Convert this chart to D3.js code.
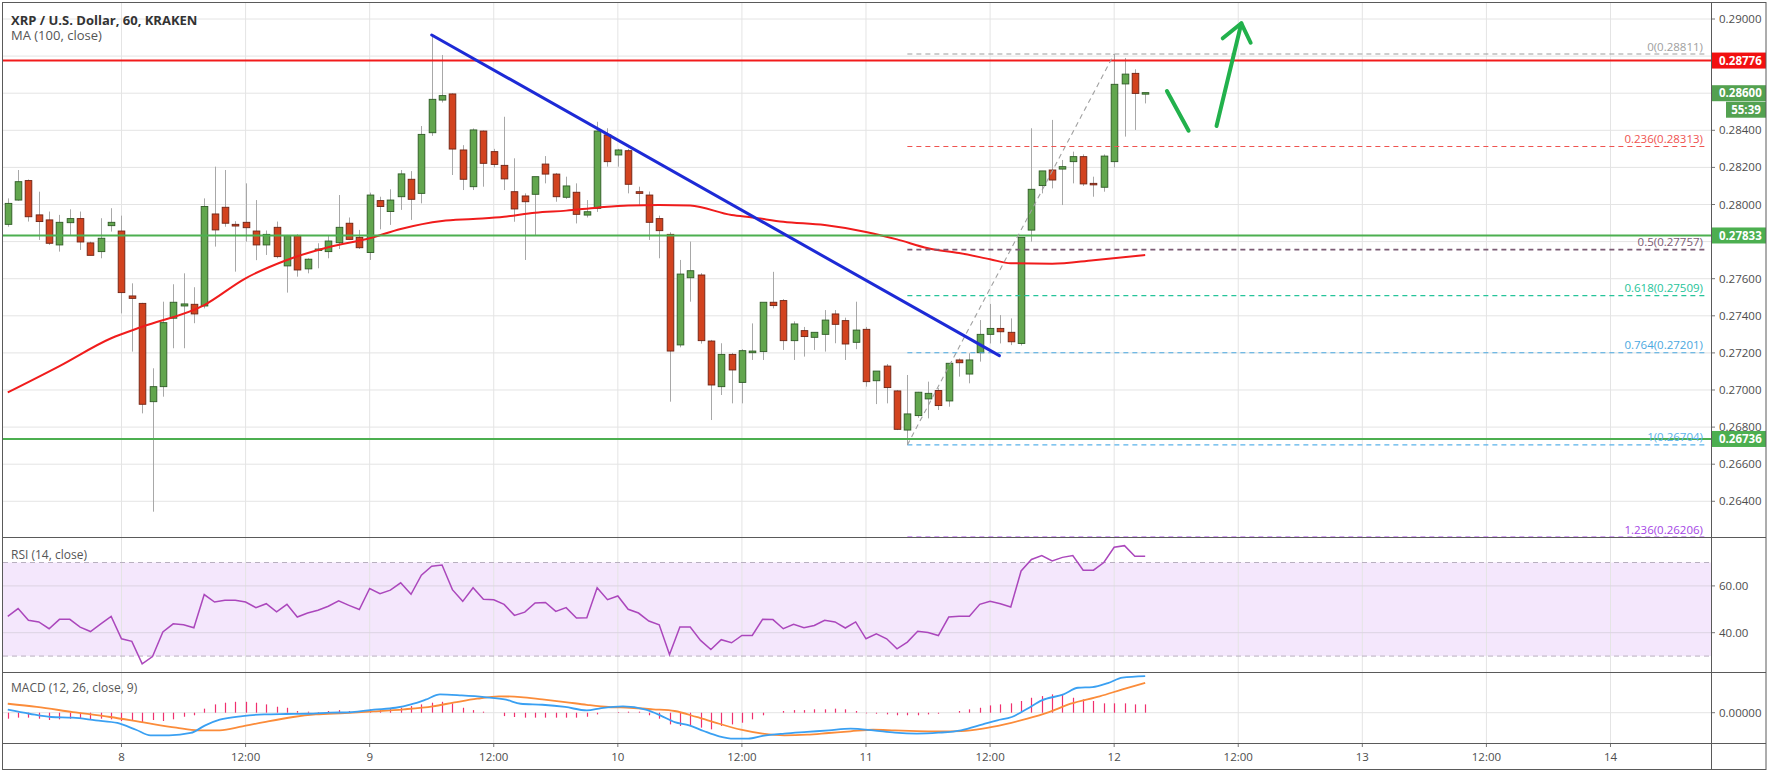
<!DOCTYPE html>
<html><head><meta charset="utf-8">
<script src="https://cdn.jsdelivr.net/npm/d3@7/dist/d3.min.js"></script>
<style>
html,body{margin:0;padding:0;background:#fff;overflow:hidden;}
svg{display:block;font-family:"Open Sans","Noto Sans",sans-serif;}
</style></head><body>
<svg id="c" width="1770" height="772"></svg>
<script>
// ---------- DATA ----------
// bar index = hours from day 8 00:00 (first bar = 7th 13:00, last = 12th 03:00)
const firstBar = -11;
const open  = [.27893,.28024,.28129,.27944,.27917,.27782,.27902,.27924,.27793,.27746,.27886,
 .27857,.27507,.27467,.26937,.27018,.27387,.27453,.27462,.27453,.27949,
 .27985,.27893,.27904,.27857,.27782,.27877,.27669,.27832,.27653,.27755,
 .27746,.27794,.27899,.27823,.27741,.28021,.27962,.28042,.28136,.28060,
 .28387,.28563,.28596,.28294,.28096,.28396,.28285,.28211,.28069,.28046,
 .28055,.28218,.28164,.28039,.28066,.27943,.27979,.28375,.28267,.28290,
 .28069,.28051,.27924,.27839,.27243,.27605,.27620,.27264,.27018,.27192,
 .27041,.27201,.27207,.27473,.27482,.27266,.27320,.27284,.27300,.27410,
 .27374,.27257,.27327,.27050,.27129,.26995,.26784,.26862,.26952,.26997,
 .26941,.27162,.27086,.27201,.27300,.27332,.27311,.27251,.27862,.28102,
 .28186,.28191,.28231,.28258,.28114,.28093,.28231,.28650,.28707,.28599];
const high  = [.28033,.28186,.28135,.28069,.27962,.27944,.27974,.27962,.27800,.27926,.27980,
 .27940,.27575,.27470,.27117,.27476,.27570,.27629,.27554,.28033,.28204,
 .28186,.27910,.28114,.28024,.27860,.27908,.27836,.27840,.27710,.27791,
 .27830,.28051,.27930,.27863,.28064,.28042,.28082,.28186,.28180,.28423,
 .28914,.28806,.28600,.28320,.28410,.28400,.28300,.28473,.28249,.28060,
 .28110,.28261,.28170,.28150,.28114,.28024,.28446,.28411,.28300,.28300,
 .28096,.28070,.27940,.27850,.27701,.27800,.27630,.27270,.27252,.27200,
 .27220,.27359,.27220,.27637,.27490,.27370,.27340,.27310,.27431,.27431,
 .27390,.27476,.27340,.27100,.27140,.27000,.27081,.26990,.27045,.27010,
 .27000,.27170,.27198,.27377,.27464,.27404,.27386,.27290,.28411,.28181,
 .28456,.28240,.28285,.28270,.28150,.28270,.28811,.28790,.28729,.28603];
const low   = [.27880,.28020,.27908,.27809,.27782,.27746,.27836,.27755,.27726,.27710,.27854,
 .27413,.27207,.26874,.26344,.26964,.27225,.27225,.27360,.27440,.27773,
 .27880,.27638,.27800,.27700,.27728,.27710,.27525,.27611,.27629,.27656,
 .27710,.27760,.27812,.27760,.27701,.27866,.27890,.27971,.27917,.28006,
 .28370,.28550,.28159,.28078,.28078,.28096,.28200,.28078,.27907,.27701,
 .27836,.28114,.28015,.28030,.27898,.27930,.27960,.28204,.28204,.28060,
 .27997,.27809,.27710,.26937,.27230,.27476,.27250,.26838,.26973,.26928,
 .26928,.27162,.27162,.27440,.27216,.27162,.27180,.27216,.27207,.27252,
 .27162,.27220,.27018,.26924,.26928,.26784,.26704,.26850,.26847,.26892,
 .26910,.27072,.27036,.27153,.27251,.27251,.27242,.27240,.27800,.28060,
 .28087,.27997,.28114,.28100,.28042,.28069,.28200,.28366,.28402,.28545];
const close = [.28006,.28123,.27934,.27908,.27791,.27904,.27924,.27798,.27726,.27818,.27904,
 .27525,.27494,.26923,.27018,.27363,.27473,.27464,.27410,.27989,.27863,
 .27899,.27884,.27875,.27782,.27839,.27719,.27832,.27647,.27705,.27760,
 .27803,.27877,.27812,.27767,.28051,.27989,.28024,.28165,.28028,.28378,
 .28567,.28587,.28299,.28136,.28402,.28222,.28216,.28138,.27976,.28015,
 .28150,.28164,.28042,.28100,.27947,.27961,.28396,.28231,.28294,.28109,
 .28060,.27904,.27859,.27210,.27625,.27643,.27266,.27027,.27192,.27108,
 .27212,.27210,.27473,.27455,.27266,.27356,.27288,.27311,.27377,.27354,
 .27248,.27323,.27045,.27102,.27013,.26788,.26871,.26988,.26982,.26916,
 .27144,.27147,.27162,.27300,.27332,.27314,.27260,.27823,.28082,.28181,
 .28132,.28204,.28258,.28111,.28110,.28261,.28648,.28703,.28599,.28603];

// MA(100) read at sample bars
const maIdx = [-11,-6,-1,2,8,12,16,20,24,27,31,34,37,40,43,46,49,52,55,59,61,64,68,72,75,78,81,84,86,90,94,99];
const maVal = [.26987,.27129,.27279,.27341,.27458,.27602,.27701,.27770,.27818,.27868,.27911,.27922,.27934,.27956,.27967,.27983,.27995,.27997,.27994,.27943,.27930,.27907,.27889,.27852,.27812,.27764,.27738,.27705,.27683,.27681,.27700,.27728];

// RSI(14) per bar
const rsi = [47.0,50.3,45.3,44.6,41.7,45.7,45.7,42.4,40.5,43.8,47.0,
 37.4,36.3,26.7,29.8,40.3,43.8,43.4,42.1,56.3,53.1,
 53.9,53.9,53.1,50.7,52.4,48.9,52.1,46.7,48.4,49.6,
 51.3,53.6,51.7,49.9,58.9,56.7,58.2,61.3,56.4,64.6,
 68.4,68.9,58.4,53.4,59.2,54.3,54.1,52.1,47.4,48.8,
 52.7,52.9,49.1,50.7,46.3,46.4,59.2,54.1,55.7,50.0,
 48.4,45.0,43.4,30.7,42.4,42.4,36.7,32.8,37.0,35.7,
 38.8,38.8,45.7,45.6,41.7,43.6,42.1,43.1,45.3,44.6,
 42.0,44.6,37.4,39.5,37.4,33.1,36.0,40.6,40.1,38.8,
 46.7,47.0,47.0,52.1,53.4,52.4,51.0,66.4,71.3,73.0,
 70.7,72.2,73.0,66.7,66.7,70.0,76.5,77.2,72.7,72.7];
const rsiBand = [30, 70];
const rsiTicks = [40, 60];

// MACD line / signal read at sample bars, histogram per bar
const macdIdx = [-11,-8.9,-6.8,-4.7,-2.5,-0.4,1.4,2.8,4.6,6.7,8.1,9.5,11.7,13.8,15.9,18,20.2,22.3,24.4,26.5,28,29.4,30.8,32.9,35.1,37.2,38.6,40.7,42.9,45,46.4,48.5,50.7,52.1,53.5,54.9,56.3,57.8,59.2,60.6,62,64.1,66.3,68.4,70.5,72.7,74.8,76.9,79,81.2,83.3,84.7,86.1,87.6,89,91.1,92.5,93.9,95.4,96.8,99];
const macdVal = [.00023,-.00008,-.00033,-.00038,-.00059,-.00079,-.00131,-.00174,-.00174,-.00156,-.00097,-.00054,-.00026,-.00013,-.00010,-.00008,0,.00005,.00023,.00038,.00064,.00100,.00141,.00133,.00120,.00100,.00069,.00061,.00044,.00018,.00036,.00049,.00023,-.00020,-.00072,-.00097,-.00141,-.00182,-.00200,-.00200,-.00179,-.00161,-.00148,-.00136,-.00123,-.00136,-.00154,-.00161,-.00154,-.00136,-.00090,-.00059,-.00033,.00031,.00095,.00141,.00192,.00197,.00228,.00269,.00281];
const sigIdx = [-11,-8.2,-4.7,-1.1,2.4,5.3,7.4,9.5,11.7,13.8,16.6,18.8,21.6,24.4,27.3,30.1,32.2,34.4,36.5,38.6,40.7,42.9,45,47.1,49.2,51.4,53.5,55.6,57.8,59.9,62,64.1,66.3,68.4,70.5,72.7,74.8,76.9,79,81.2,83.3,85.4,87.6,89.7,91.8,94.6,96.8,99];
const sigVal = [.00069,.00044,.00005,-.00033,-.00079,-.00115,-.00136,-.00136,-.00105,-.00072,-.00033,-.00013,-.00003,.00010,.00026,.00049,.00079,.00108,.00126,.00120,.00102,.00082,.00061,.00044,.00038,.00026,.00013,-.00033,-.00085,-.00131,-.00161,-.00174,-.00169,-.00156,-.00143,-.00131,-.00136,-.00141,-.00143,-.00141,-.00123,-.00090,-.00046,.00005,.00069,.00126,.00179,.00230];
const hist = [-.00046,-.00038,-.00038,-.00046,-.00056,-.00051,-.00046,-.00046,-.00051,-.00046,-.00051,
 -.00064,-.00064,-.00077,-.00056,-.00064,-.00051,-.00031,-.00020,.00031,.00064,
 .00077,.00084,.00084,.00077,.00064,.00046,.00038,.00013,.00008,.00005,
 .00013,.00020,.00013,.00013,.00026,.00026,.00031,.00038,.00051,.00064,
 .00077,.00084,.00072,.00038,.00020,.00008,0,-.00026,-.00033,-.00038,
 -.00038,-.00038,-.00038,-.00038,-.00038,-.00031,-.00013,0,.00005,.00008,
 .00008,-.00020,-.00046,-.00090,-.00102,-.00102,-.00115,-.00128,-.00102,-.00090,
 -.00077,-.00051,-.00020,0,.00013,.00020,.00020,.00026,.00026,.00031,
 .00026,.00013,-.00005,-.00008,-.00013,-.00020,-.00020,-.00020,-.00013,-.00008,
 0,.00013,.00026,.00038,.00056,.00064,.00072,.00090,.00115,.00128,
 .00141,.00141,.00115,.00102,.00090,.00072,.00072,.00072,.00064,.00064];

// axes
const priceTicks = [0.264,0.266,0.268,0.270,0.272,0.274,0.276,0.278,0.280,0.282,0.284,0.286,0.288,0.290];
const timeTickIdx = [0,12,24,36,48,60,72,84,96,108,120,132,144];
const timeTickLbl = ["8","12:00","9","12:00","10","12:00","11","12:00","12","12:00","13","12:00","14"];

// drawings
const hLines = [{p:0.28776,c:"#f21b1b"},{p:0.27833,c:"#4caf50"},{p:0.26736,c:"#4caf50"}];
const trendStart = {i:30, p:0.28914}, trendEnd = {i:84.9, p:0.27185};
const fibStartIdx = 76;
const fibLevel = ["0","0.236","0.5","0.618","0.764","1","1.236"];
const fibPrice = [0.28811,0.28313,0.27757,0.27509,0.27201,0.26704,0.26206];
const fibColor = ["#9e9e9e","#ef5350","#7b5b74","#26c49a","#4aa8e0","#5ab2ea","#a545e6"];
const fibDiag = [{i:76,p:0.26704},{i:96,p:0.28811}];
const arrow1 = [{i:101.1,p:0.28612},{i:103.2,p:0.28398}];
const arrow2 = [{i:105.9,p:0.28423},{i:108.3,p:0.28977}];
const arrowHead = [{i:106.5,p:0.28896},{i:108.3,p:0.28977},{i:109.2,p:0.28872}];
const lastPrice = 0.28600, countdown = "55:39";

// ---------- LAYOUT ----------
const L=3, R=1711, RR=1766, T=3, mainB=537, rsiB=672, macdB=743, B=769.5;
const svg = d3.select("#c");
const x = d3.scaleLinear().domain([-11.46,153.72]).range([L,R]);
const y = d3.scaleLinear().domain([0.262075,0.290863]).range([mainB,T]);
const yR = d3.scaleLinear().domain([23.2,80.9]).range([rsiB,mainB]);
const yM = d3.scaleLinear().domain([-0.002331,0.003131]).range([macdB,rsiB]);
const bars = open.map((o,k)=>({i:firstBar+k,o,h:high[k],l:low[k],c:close[k]}));
const gridC="#e4e4e4", axisTxt="#4d4d4d";

const defs = svg.append("defs");
[["cm",T,mainB],["cr",mainB,rsiB],["cmd",rsiB,macdB]].forEach(([id,a,b])=>{
  defs.append("clipPath").attr("id",id).append("rect").attr("x",L).attr("y",a).attr("width",R-L).attr("height",b-a);
});

// RSI band
svg.append("rect").attr("x",L).attr("width",R-L).attr("y",yR(rsiBand[1])).attr("height",yR(rsiBand[0])-yR(rsiBand[1])).attr("fill","#f4e7fc");

// grid
const g = svg.append("g");
g.selectAll(".vg").data(timeTickIdx).join("line").attr("x1",d=>x(d)).attr("x2",d=>x(d)).attr("y1",T).attr("y2",macdB).attr("stroke",gridC);
g.selectAll(".hg").data(priceTicks).join("line").attr("x1",L).attr("x2",R).attr("y1",d=>y(d)).attr("y2",d=>y(d)).attr("stroke",gridC);
g.selectAll(".rg").data(rsiTicks).join("line").attr("x1",L).attr("x2",R).attr("y1",d=>yR(d)).attr("y2",d=>yR(d)).attr("stroke","#dcd3e2");
g.selectAll(".rb").data(rsiBand).join("line").attr("x1",L).attr("x2",R).attr("y1",d=>yR(d)).attr("y2",d=>yR(d)).attr("stroke","#b8b0bf").attr("stroke-dasharray","5,4");
g.append("line").attr("x1",L).attr("x2",R).attr("y1",yM(0)).attr("y2",yM(0)).attr("stroke",gridC);

// ---------- MAIN PANE ----------
const main = svg.append("g").attr("clip-path","url(#cm)");
const bw = (x(1)-x(0))*0.64;
const cg = main.append("g");
cg.selectAll(".wick").data(bars).join("line")
  .attr("x1",d=>Math.round(x(d.i))+0.5).attr("x2",d=>Math.round(x(d.i))+0.5)
  .attr("y1",d=>y(d.h)).attr("y2",d=>y(d.l)).attr("stroke","#a8a8a8").attr("stroke-width",1);
cg.selectAll(".body").data(bars).join("rect")
  .attr("x",d=>Math.round(x(d.i))+0.5-bw/2).attr("width",bw)
  .attr("y",d=>y(Math.max(d.o,d.c))).attr("height",d=>Math.max(1.5,Math.abs(y(d.o)-y(d.c))))
  .attr("fill",d=>d.c>=d.o?"#62a64e":"#d2431f")
  .attr("stroke",d=>d.c>=d.o?"#2e5a25":"#6e2314").attr("stroke-width",0.9);

// MA
main.append("path").datum(maIdx.map((d,k)=>[d,maVal[k]]))
  .attr("d",d3.line().x(d=>x(d[0])).y(d=>y(d[1])).curve(d3.curveMonotoneX))
  .attr("fill","none").attr("stroke","#f01c1c").attr("stroke-width",2);

// horizontal S/R lines
main.selectAll(".hl").data(hLines).join("line").attr("x1",L).attr("x2",R)
  .attr("y1",d=>y(d.p)).attr("y2",d=>y(d.p)).attr("stroke",d=>d.c).attr("stroke-width",2);

// fib
const fib = fibLevel.map((lv,k)=>({lv,p:fibPrice[k],c:fibColor[k]}));
main.selectAll(".fl").data(fib).join("line").attr("x1",x(fibStartIdx)).attr("x2",R-6)
  .attr("y1",d=>y(d.p)).attr("y2",d=>y(d.p)).attr("stroke",d=>d.c)
  .attr("stroke-width",d=>(d.lv==="0.5"||d.lv==="1.236")?1.6:1.1).attr("stroke-dasharray","5,4");
main.append("line").attr("x1",x(fibDiag[0].i)).attr("y1",y(fibDiag[0].p)).attr("x2",x(fibDiag[1].i)).attr("y2",y(fibDiag[1].p))
  .attr("stroke","#a0a0a0").attr("stroke-width",1.1).attr("stroke-dasharray","5,4");
svg.selectAll(".ft").data(fib).join("text").attr("x",1703).attr("y",d=>y(d.p)-3.5)
  .attr("text-anchor","end").attr("font-size",11.5).attr("fill",d=>d.c).text(d=>`${d.lv}(${d.p.toFixed(5)})`);

// trend line
main.append("line").attr("x1",x(trendStart.i)).attr("y1",y(trendStart.p)).attr("x2",x(trendEnd.i)).attr("y2",y(trendEnd.p))
  .attr("stroke","#1d2ad6").attr("stroke-width",3).attr("stroke-linecap","round");

// green arrows
const pl = d3.line().x(d=>x(d.i)).y(d=>y(d.p));
[arrow1,arrow2,arrowHead].forEach(a=>{
  svg.append("path").attr("d",pl(a)).attr("fill","none").attr("stroke","#22b14c").attr("stroke-width",4)
    .attr("stroke-linecap","round").attr("stroke-linejoin","round");
});

// ---------- RSI ----------
const rg = svg.append("g").attr("clip-path","url(#cr)");
rg.append("path").datum(rsi.map((v,k)=>[firstBar+k,v]))
  .attr("d",d3.line().x(d=>x(d[0])).y(d=>yR(d[1])))
  .attr("fill","none").attr("stroke","#ab47bc").attr("stroke-width",1.5);

// ---------- MACD ----------
const mg = svg.append("g").attr("clip-path","url(#cmd)");
mg.selectAll(".hb").data(hist.map((v,k)=>[firstBar+k,v])).join("line")
  .attr("x1",d=>Math.round(x(d[0]))+0.5).attr("x2",d=>Math.round(x(d[0]))+0.5)
  .attr("y1",yM(0)).attr("y2",d=>yM(d[1])).attr("stroke","#f0306e").attr("stroke-width",1.2);
mg.append("path").datum(sigIdx.map((d,k)=>[d,sigVal[k]]))
  .attr("d",d3.line().x(d=>x(d[0])).y(d=>yM(d[1])).curve(d3.curveMonotoneX))
  .attr("fill","none").attr("stroke","#fb8c3a").attr("stroke-width",1.8);
mg.append("path").datum(macdIdx.map((d,k)=>[d,macdVal[k]]))
  .attr("d",d3.line().x(d=>x(d[0])).y(d=>yM(d[1])).curve(d3.curveMonotoneX))
  .attr("fill","none").attr("stroke","#3aa0f2").attr("stroke-width",1.8);

// ---------- AXES ----------
const boxes = [{p:0.28776,c:"#f21010"},{p:lastPrice,c:"#53a150"},{p:0.27833,c:"#4caf50"},{p:0.26736,c:"#4caf50"}];
const ax = svg.append("g").attr("font-size",11.5).attr("fill",axisTxt);
const fmt = d3.format(".5f");
// tick labels that sit under a price label box are hidden by it
const visTicks = priceTicks.filter(t=>boxes.every(b=>Math.abs(y(t)-y(b.p))>10));
ax.selectAll(".pt").data(visTicks).join("text").attr("x",1719).attr("y",d=>y(d)).attr("dy","0.35em").text(d=>fmt(d));
ax.selectAll(".ptk").data(priceTicks).join("line").attr("x1",R).attr("x2",R+4).attr("y1",d=>y(d)).attr("y2",d=>y(d)).attr("stroke","#777");
ax.selectAll(".rt").data(rsiTicks).join("text").attr("x",1719).attr("y",d=>yR(d)).attr("dy","0.35em").text(d=>d.toFixed(2));
ax.selectAll(".rtk").data(rsiTicks).join("line").attr("x1",R).attr("x2",R+4).attr("y1",d=>yR(d)).attr("y2",d=>yR(d)).attr("stroke","#777");
ax.append("text").attr("x",1719).attr("y",yM(0)).attr("dy","0.35em").text(fmt(0));
ax.append("line").attr("x1",R).attr("x2",R+4).attr("y1",yM(0)).attr("y2",yM(0)).attr("stroke","#777");
ax.selectAll(".tt").data(timeTickIdx).join("text").attr("x",d=>x(d)).attr("y",757).attr("dy","0.35em")
  .attr("text-anchor","middle").text((d,k)=>timeTickLbl[k]);
ax.selectAll(".ttk").data(timeTickIdx).join("line").attr("x1",d=>x(d)).attr("x2",d=>x(d)).attr("y1",macdB).attr("y2",macdB+4).attr("stroke","#777");

// price label boxes
const bx = svg.append("g");
boxes.forEach(b=>{
  bx.append("rect").attr("x",R).attr("y",y(b.p)-8).attr("width",RR-R).attr("height",16).attr("fill",b.c);
  bx.append("text").attr("x",1719).attr("y",y(b.p)).attr("dy","0.35em").attr("font-size",11.5).attr("font-weight","bold").attr("fill","#fff").text(fmt(b.p));
});
bx.append("rect").attr("x",1726).attr("y",y(lastPrice)+8.5).attr("width",RR-1726).attr("height",16).attr("fill","#53a150");
bx.append("text").attr("x",1746).attr("y",y(lastPrice)+16.5).attr("dy","0.35em").attr("text-anchor","middle").attr("font-size",11.5).attr("font-weight","bold").attr("fill","#fff").text(countdown);

// frame
const fr = svg.append("g").attr("stroke","#5a5a5a").attr("fill","none");
fr.append("rect").attr("x",2.5).attr("y",2.5).attr("width",RR-2.5).attr("height",B-2.5);
fr.append("line").attr("x1",R+0.5).attr("x2",R+0.5).attr("y1",2.5).attr("y2",B);
[mainB,rsiB,macdB].forEach(v=>fr.append("line").attr("x1",2.5).attr("x2",RR).attr("y1",v+0.5).attr("y2",v+0.5));

// legends
svg.append("text").attr("x",11).attr("y",25).attr("font-size",13).attr("font-weight","bold").attr("fill","#333").text("XRP / U.S. Dollar, 60, KRAKEN");
svg.append("text").attr("x",11).attr("y",40).attr("font-size",13).attr("fill","#555").text("MA (100, close)");
svg.append("text").attr("x",11).attr("y",559).attr("font-size",12).attr("fill","#555").text("RSI (14, close)");
svg.append("text").attr("x",11).attr("y",692).attr("font-size",12).attr("fill","#555").text("MACD (12, 26, close, 9)");
</script>
</body></html>
